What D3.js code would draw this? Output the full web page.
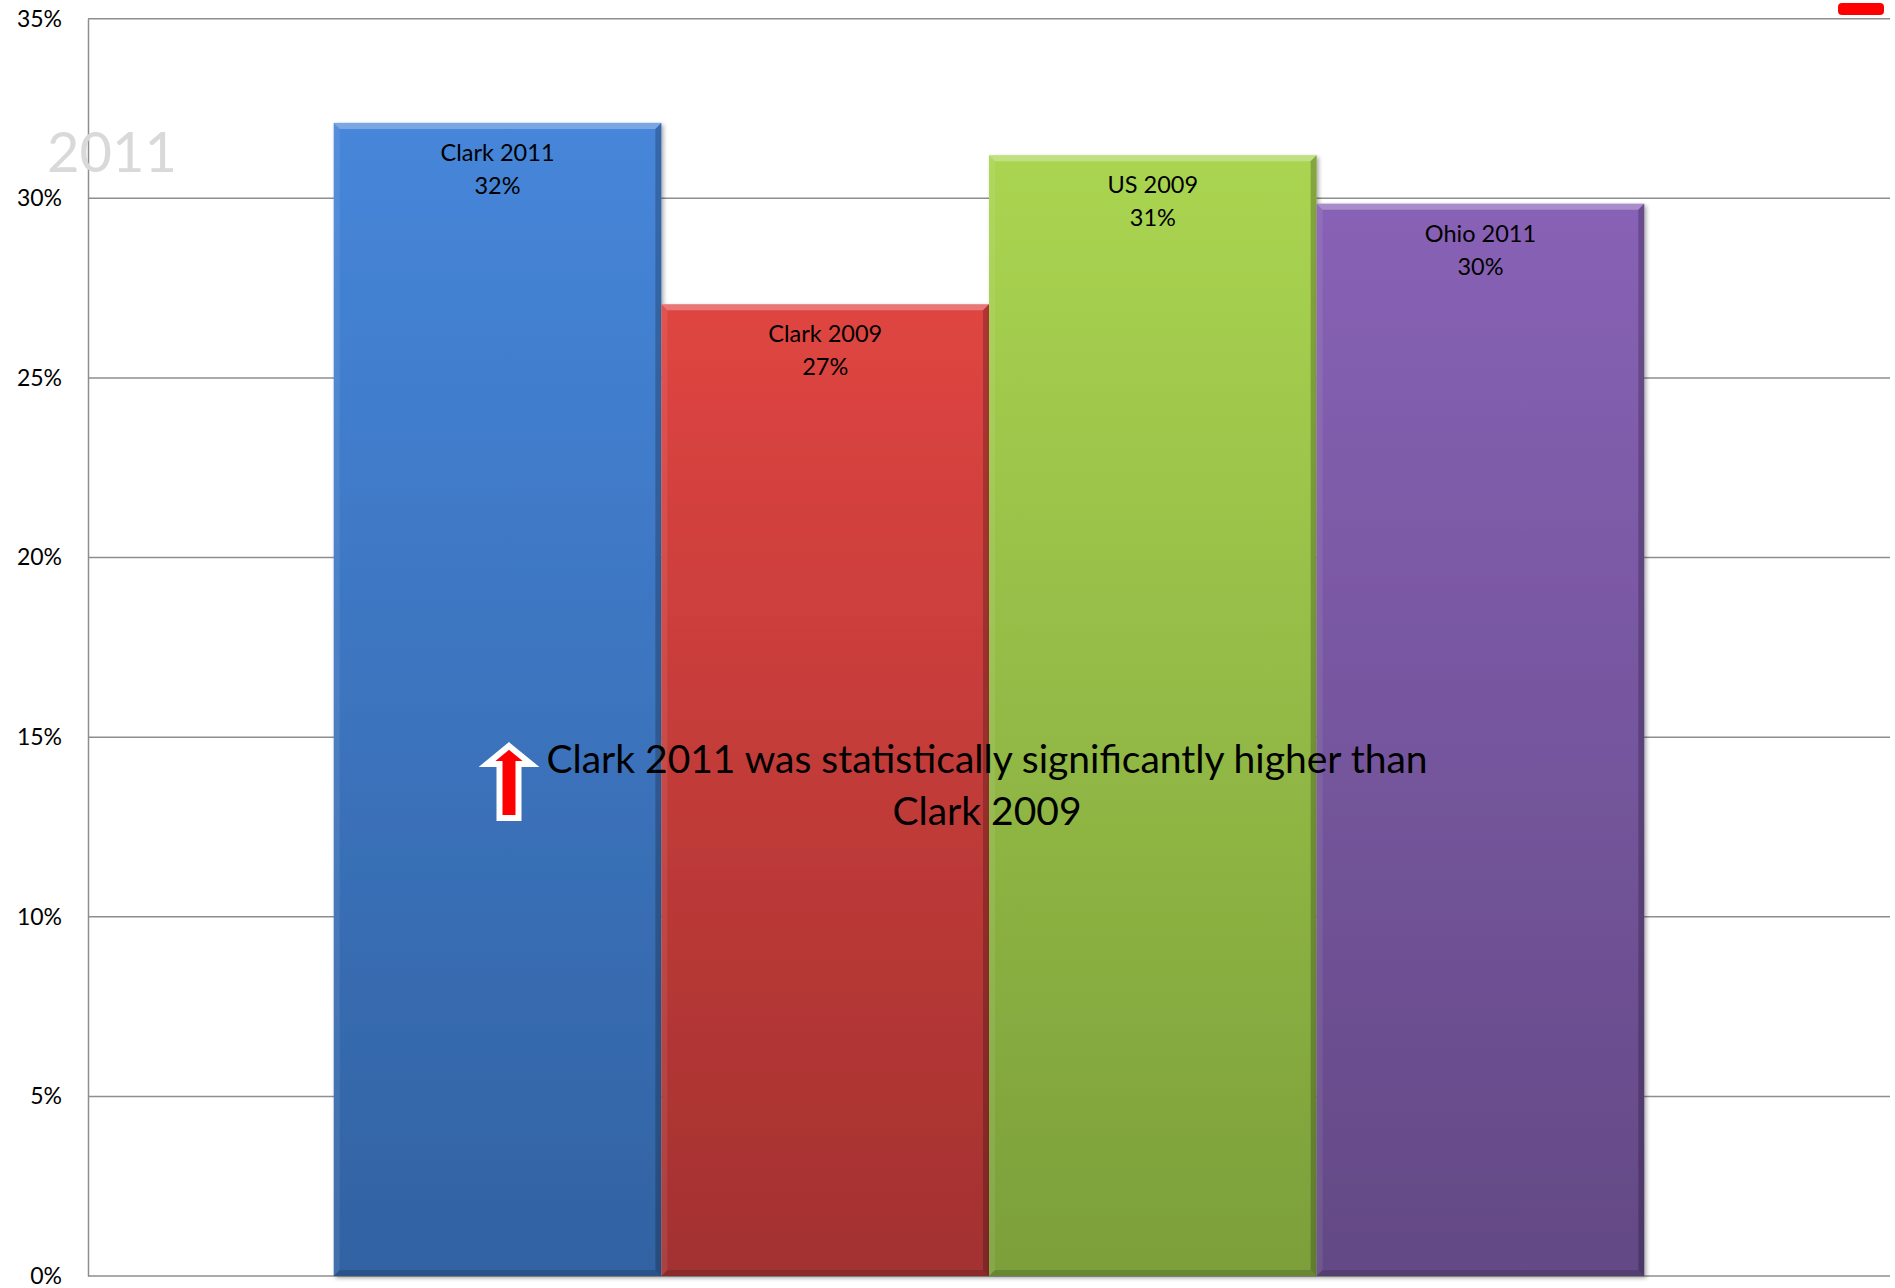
<!DOCTYPE html>
<html>
<head>
<meta charset="utf-8">
<script src="https://cdn.jsdelivr.net/npm/d3@7"></script>
<style>
  body { margin: 0; background: #fff; }
  svg { display: block; font-family: Lato, "Open Sans", sans-serif; }
</style>
</head>
<body>
<svg id="chart" width="1895" height="1288"></svg>
<script>
// chart data
const series = ["Clark 2011", "Clark 2009", "US 2009", "Ohio 2011"];
const values = [32.1, 27.05, 31.2, 29.85];
const valueLabels = ["32%", "27%", "31%", "30%"];
const yTicks = [0, 5, 10, 15, 20, 25, 30, 35];
const noteLines = ["Clark 2011 was statistically significantly higher than", "Clark 2009"];

// bar colours (top -> bottom of gradient)
const topColors = ["#4686da", "#df4541", "#aad551", "#8862b6"];
const bottomColors = ["#3262a2", "#a33130", "#7c9f3a", "#634985"];

const svg = d3.select("#chart");
const width = 1895, height = 1288;
const margin = { top: 18.7, right: 5, bottom: 12, left: 88 };
const innerW = width - margin.left - margin.right;
const innerH = height - margin.top - margin.bottom;

const defs = svg.append("defs");
series.forEach((s, i) => {
  const grad = defs.append("linearGradient")
    .attr("id", "grad" + i)
    .attr("x1", 0).attr("y1", 0).attr("x2", 0).attr("y2", 1);
  grad.append("stop").attr("offset", "0%").attr("stop-color", topColors[i]);
  grad.append("stop").attr("offset", "100%").attr("stop-color", bottomColors[i]);
});
defs.append("filter").attr("id", "shadow")
  .attr("x", "-10%").attr("y", "-10%").attr("width", "120%").attr("height", "120%")
  .append("feDropShadow")
  .attr("dx", 2).attr("dy", 2).attr("stdDeviation", 2)
  .attr("flood-color", "#000").attr("flood-opacity", 0.35);

const g = svg.append("g").attr("transform", `translate(${margin.left},${margin.top})`);

const y = d3.scaleLinear().domain([0, 35]).range([innerH, 0]);

// one category, gap width 150% -> group is 4/5.5 of the category
const groupW = innerW * 4 / 5.5;
const x = d3.scaleBand()
  .domain(series)
  .range([(innerW - groupW) / 2, (innerW + groupW) / 2])
  .padding(0);

// watermark
svg.append("text")
  .attr("x", 47).attr("y", 172)
  .attr("font-size", 56)
  .attr("fill", "#d9d9d9")
  .text("2011");

// gridlines
g.append("g")
  .selectAll("line")
  .data(yTicks)
  .enter()
  .append("line")
  .attr("x1", 0).attr("x2", innerW)
  .attr("y1", d => y(d)).attr("y2", d => y(d))
  .attr("stroke", "#8e8e8e")
  .attr("stroke-width", 1.5);

// y axis
const yAxis = g.append("g")
  .call(d3.axisLeft(y).tickValues(yTicks).tickFormat(d => d + "%").tickSize(0).tickPadding(26));
yAxis.select(".domain").attr("stroke", "#8e8e8e").attr("stroke-width", 1.5);
yAxis.selectAll("text")
  .attr("font-size", 23)
  .attr("font-family", "Lato, sans-serif")
  .attr("fill", "#000");

// bars
const b = 6;
const bars = g.selectAll(".bar")
  .data(series)
  .enter()
  .append("g")
  .attr("class", "bar");

bars.append("rect")
  .attr("x", d => x(d))
  .attr("y", (d, i) => y(values[i]))
  .attr("width", x.bandwidth())
  .attr("height", (d, i) => innerH - y(values[i]))
  .attr("fill", (d, i) => `url(#grad${i})`)
  .attr("filter", "url(#shadow)");

// bevel edges
bars.each(function(d, i) {
  const x0 = x(d), x1 = x0 + x.bandwidth();
  const y0 = y(values[i]), y1 = innerH;
  const sel = d3.select(this);
  sel.append("polygon")
    .attr("points", [[x0, y0], [x1, y0], [x1 - b, y0 + b], [x0 + b, y0 + b]].join(" "))
    .attr("fill", "#fff").attr("fill-opacity", 0.28);
  sel.append("polygon")
    .attr("points", [[x0, y0], [x0 + b, y0 + b], [x0 + b, y1 - b], [x0, y1]].join(" "))
    .attr("fill", "#fff").attr("fill-opacity", 0.08);
  sel.append("polygon")
    .attr("points", [[x1, y0], [x1, y1], [x1 - b, y1 - b], [x1 - b, y0 + b]].join(" "))
    .attr("fill", "#000").attr("fill-opacity", 0.22);
  sel.append("polygon")
    .attr("points", [[x0, y1], [x1, y1], [x1 - b, y1 - b], [x0 + b, y1 - b]].join(" "))
    .attr("fill", "#000").attr("fill-opacity", 0.15);
});

// data labels
bars.append("text")
  .attr("x", d => x(d) + x.bandwidth() / 2)
  .attr("y", (d, i) => y(values[i]) + 38)
  .attr("text-anchor", "middle")
  .attr("font-size", 23.5)
  .attr("fill", "#000")
  .text(d => d);

bars.append("text")
  .attr("x", d => x(d) + x.bandwidth() / 2)
  .attr("y", (d, i) => y(values[i]) + 71)
  .attr("text-anchor", "middle")
  .attr("font-size", 23.5)
  .attr("fill", "#000")
  .text((d, i) => valueLabels[i]);

// significance note
const noteX = 987;
svg.append("g")
  .selectAll("text")
  .data(noteLines)
  .enter()
  .append("text")
  .attr("x", noteX)
  .attr("y", (d, i) => 773 + i * 52)
  .attr("text-anchor", "middle")
  .attr("font-size", 39)
  .attr("fill", "#000")
  .text(d => d);

// up arrow
const ax = 509, ay = 746;
const arrow = [
  [ax, ay], [ax + 22, ay + 18], [ax + 9.5, ay + 18], [ax + 9.5, ay + 72],
  [ax - 9.5, ay + 72], [ax - 9.5, ay + 18], [ax - 22, ay + 18]
];
svg.append("polygon")
  .attr("points", arrow.join(" "))
  .attr("fill", "#ff0000")
  .attr("stroke", "#fff")
  .attr("stroke-width", 6)
  .attr("stroke-linejoin", "miter");

// red marker top right
svg.append("rect")
  .attr("x", 1838).attr("y", 3)
  .attr("width", 46).attr("height", 12)
  .attr("rx", 4)
  .attr("fill", "#ff0000");
</script>
</body>
</html>
